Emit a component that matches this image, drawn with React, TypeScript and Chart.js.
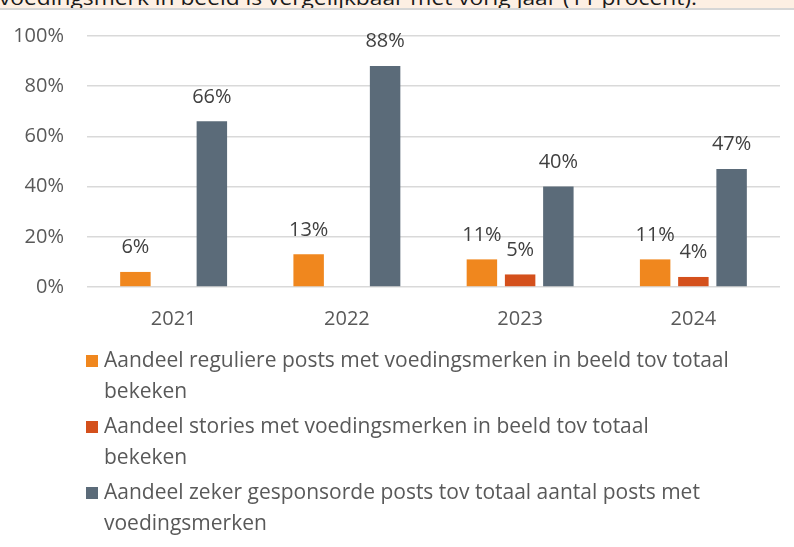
import React, { useEffect, useRef } from "react";
import { Chart, registerables } from "chart.js";

Chart.register(...registerables);

const headerText = "voedingsmerk in beeld is vergelijkbaar met vorig jaar (11 procent).";
const categories = ["2021", "2022", "2023", "2024"];
const regularPosts = [6, 13, 11, 11];
const stories: (number | null)[] = [null, null, 5, 4];
const sponsoredPosts = [66, 88, 40, 47];
const seriesLegendLines = [
  ["Aandeel reguliere posts met voedingsmerken in beeld tov totaal", "bekeken"],
  ["Aandeel stories met voedingsmerken in beeld tov totaal", "bekeken"],
  ["Aandeel zeker gesponsorde posts tov totaal aantal posts met", "voedingsmerken"],
];
const seriesColors = ["#F0871E", "#D4501C", "#5B6B79"];
const yMin = 0;
const yMax = 100;
const yStep = 20;

const FONT = "'Open Sans', Lato, sans-serif";
const FONT_SIZE = 20;
const TEXT_COLOR = "#595959";

const valueLabelsPlugin = {
  id: "valueLabels",
  afterDatasetsDraw(chart: any) {
    const ctx = chart.ctx;
    ctx.save();
    ctx.font = `${FONT_SIZE}px ${FONT}`;
    ctx.fillStyle = "#404040";
    ctx.textAlign = "center";
    ctx.textBaseline = "middle";
    chart.data.datasets.forEach((ds: any, i: number) => {
      const meta = chart.getDatasetMeta(i);
      meta.data.forEach((el: any, j: number) => {
        const v = ds.data[j];
        if (v == null) return;
        ctx.fillText(`${v}%`, el.x, el.y - 24.5);
      });
    });
    ctx.restore();
  },
};

const wrappedLegendPlugin = {
  id: "wrappedLegend",
  afterDraw(chart: any) {
    const ctx = chart.ctx;
    const left = chart.chartArea.left - 1;
    const firstCenter = chart.chartArea.bottom + 74;
    ctx.save();
    ctx.font = `21px ${FONT}`;
    ctx.textAlign = "left";
    ctx.textBaseline = "middle";
    chart.data.datasets.forEach((ds: any, i: number) => {
      const cy = firstCenter + i * 66;
      ctx.fillStyle = ds.backgroundColor;
      ctx.fillRect(left, cy - 6, 12, 12);
      ctx.fillStyle = TEXT_COLOR;
      const lines: string[] = ds.legendLines;
      lines.forEach((line, k) => {
        ctx.fillText(line, left + 18, cy + k * 31);
      });
    });
    ctx.restore();
  },
};

export default function App() {
  const canvasRef = useRef<HTMLCanvasElement | null>(null);
  const headerRef = useRef<HTMLSpanElement | null>(null);

  useEffect(() => {
    document.body.style.margin = "0";
    const span = headerRef.current;
    if (span) {
      const w = span.getBoundingClientRect().width;
      if (w > 0) {
        span.style.transform = `scaleX(${698 / w})`;
      }
    }
    const canvas = canvasRef.current;
    if (!canvas) return;
    const datasetsSrc = [regularPosts, stories, sponsoredPosts];
    const chart = new Chart(canvas, {
      type: "bar",
      data: {
        labels: categories,
        datasets: datasetsSrc.map((data, i) => ({
          label: seriesLegendLines[i].join(" "),
          legendLines: seriesLegendLines[i],
          data,
          backgroundColor: seriesColors[i],
          borderWidth: 0,
          categoryPercentage: 0.662,
          barPercentage: 0.797,
        })) as any,
      },
      options: {
        responsive: false,
        animation: false,
        layout: { padding: { top: 36, left: 0, right: 14, bottom: 210 } },
        plugins: {
          legend: { display: false },
          tooltip: { enabled: false },
        },
        scales: {
          x: {
            grid: { display: false, drawTicks: false },
            border: { display: false },
            ticks: {
              color: TEXT_COLOR,
              font: { family: FONT, size: FONT_SIZE },
              padding: 20,
            },
            afterFit: (s: any) => {
              s.height = 50;
            },
          },
          y: {
            min: yMin,
            max: yMax,
            grid: { color: "#D9D9D9", lineWidth: 1.6, drawTicks: false },
            border: { display: false },
            ticks: {
              stepSize: yStep,
              color: TEXT_COLOR,
              font: { family: FONT, size: FONT_SIZE },
              padding: 23,
              callback: (v: any) => `${v}%`,
            },
            afterFit: (s: any) => {
              s.width = 87;
            },
          },
        },
      },
      plugins: [valueLabelsPlugin, wrappedLegendPlugin],
    });
    return () => chart.destroy();
  }, []);

  return (
    <div style={{ position: "relative", width: 794, height: 547, background: "#FFFFFF", overflow: "hidden" }}>
      <canvas ref={canvasRef} width={794} height={547} style={{ position: "absolute", left: 0, top: 0 }} />
      <div
        style={{
          position: "absolute",
          left: 0,
          top: 0,
          width: 794,
          height: 8,
          background: "#FDEFE3",
          borderBottom: "2px solid #D6D6D6",
          overflow: "hidden",
        }}
      >
        <span
          ref={headerRef}
          style={{
            position: "absolute",
            left: -1,
            top: -12,
            whiteSpace: "nowrap",
            fontFamily: FONT,
            fontSize: 20,
            lineHeight: "20px",
            color: "#1A1A1A",
            transformOrigin: "0 0",
          }}
        >
          {headerText}
        </span>
      </div>
    </div>
  );
}
